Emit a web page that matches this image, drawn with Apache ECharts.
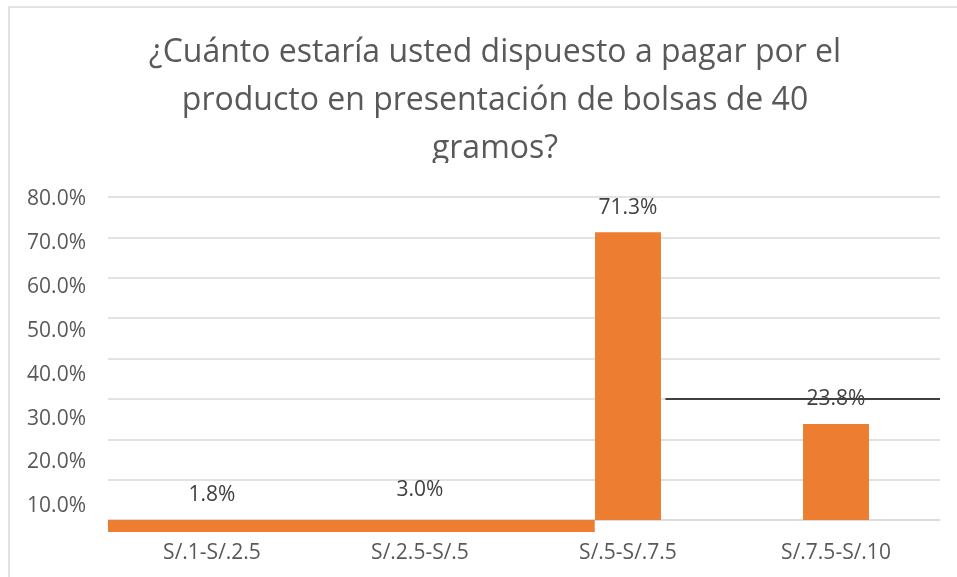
<!DOCTYPE html>
<html>
<head>
<meta charset="utf-8">
<script src="https://cdn.jsdelivr.net/npm/echarts@6/dist/echarts.min.js"></script>
<style>
  html, body { margin: 0; padding: 0; background: #fff; }
  #chart { width: 957px; height: 577px; }
</style>
</head>
<body>
<div id="chart"></div>
<script>
// datos
const categorias = ["S/.1-S/.2.5", "S/.2.5-S/.5", "S/.5-S/.7.5", "S/.7.5-S/.10"];
const porcentajes = [1.8, 3.0, 71.3, 23.8];
const ticksY = [10, 20, 30, 40, 50, 60, 70, 80];
// restos del grafico original (linea negra y franja naranja bajo el eje)
const lineaNegra = [[2.68, 30], [4, 30]];
const franja = [2.34];

const fuente = "Open Sans";
const gris = "#595959";
const naranja = "#ED7D31";

const myChart = echarts.init(document.getElementById("chart"));

myChart.setOption({
  animation: false,
  title: {
    text: "¿Cuánto estaría usted dispuesto a pagar por el\nproducto en presentación de bolsas de 40\ngramos?",
    left: 490,
    top: 24,
    textAlign: "center",
    textStyle: {
      fontFamily: fuente,
      fontSize: 32,
      fontWeight: "normal",
      color: gris,
      lineHeight: 48,
    },
  },
  graphic: [
    {
      type: "rect",
      shape: { x: 9, y: 7, width: 1000, height: 700 },
      style: { fill: "none", stroke: "#d9d9d9", lineWidth: 1.5 },
      z: 0,
    },
    {
      // tapa la parte baja de "gramos?" como en el original
      type: "rect",
      shape: { x: 380, y: 163, width: 200, height: 16 },
      style: { fill: "#fff" },
      z: 100,
    },
  ],
  grid: [
    { left: 108, right: 17, top: 197, bottom: 57 },
    { left: 108, right: 17, top: 520, height: 12 },
  ],
  xAxis: [
    {
      type: "category",
      gridIndex: 0,
      data: categorias,
      axisLine: { lineStyle: { color: "#d9d9d9", width: 1.5 } },
      axisTick: { show: false },
      axisLabel: {
        fontFamily: fuente,
        fontSize: 21,
        color: gris,
        margin: 23,
      },
    },
    {
      type: "value",
      gridIndex: 0,
      min: 0,
      max: 4,
      show: false,
    },
    {
      type: "value",
      gridIndex: 1,
      min: 0,
      max: 4,
      show: false,
    },
  ],
  yAxis: [
    {
      type: "value",
      gridIndex: 0,
      min: 0,
      max: 80,
      interval: 10,
      axisLabel: { show: false },
      axisLine: { show: false },
      axisTick: { show: false },
      splitLine: { lineStyle: { color: "#d9d9d9", width: 1.5 } },
    },
    {
      // solo etiquetas, con el espaciado del original
      type: "value",
      gridIndex: 0,
      position: "left",
      min: 6.9,
      max: 80.5,
      axisLine: { show: false },
      axisTick: { show: false },
      splitLine: { show: false },
      axisLabel: {
        customValues: ticksY,
        formatter: (v) => v.toFixed(1) + "%",
        fontFamily: fuente,
        fontSize: 21,
        color: gris,
        margin: 22,
      },
    },
    {
      type: "category",
      gridIndex: 1,
      data: ["franja"],
      show: false,
    },
  ],
  series: [
    {
      type: "bar",
      xAxisIndex: 0,
      yAxisIndex: 0,
      barWidth: "31.7%",
      data: porcentajes.map((v, i) => ({
        value: v,
        itemStyle: { color: i < 2 ? "rgba(0,0,0,0)" : naranja },
        label: { distance: i < 2 ? 7 : 14 },
      })),
      label: {
        show: true,
        position: "top",
        formatter: (p) => p.value.toFixed(1) + "%",
        fontFamily: fuente,
        fontSize: 21,
        color: "#404040",
      },
      z: 3,
    },
    {
      type: "line",
      xAxisIndex: 1,
      yAxisIndex: 0,
      data: lineaNegra,
      symbol: "none",
      lineStyle: { color: "#404040", width: 2 },
      z: 4,
    },
    {
      type: "bar",
      xAxisIndex: 2,
      yAxisIndex: 2,
      barWidth: "100%",
      data: franja,
      itemStyle: { color: naranja },
    },
  ],
});
</script>
</body>
</html>
